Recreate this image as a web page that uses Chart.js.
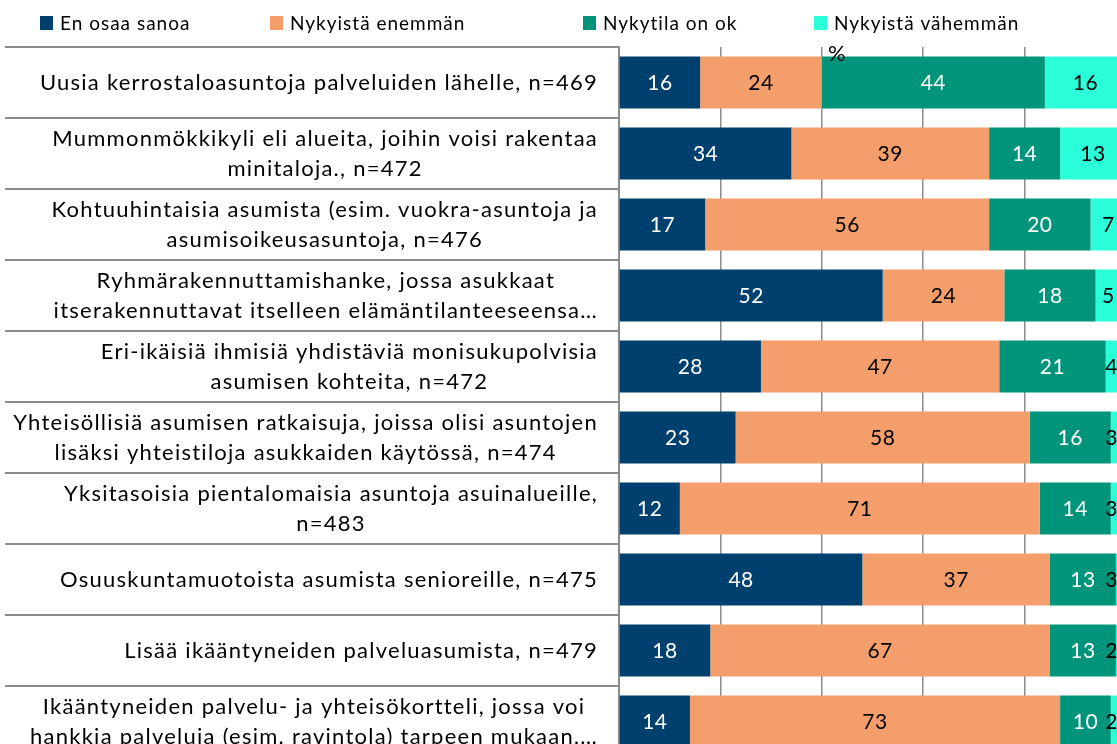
<!DOCTYPE html>
<html>
<head>
<meta charset="utf-8">
<script src="https://cdn.jsdelivr.net/npm/chart.js@4.4.1/dist/chart.umd.min.js"></script>
<style>
    html, body { margin: 0; padding: 0; overflow: hidden; background: #fff; }
    #wrap { width: 1117px; height: 744px; overflow: hidden; }
    canvas { display: block; }
</style>
</head>
<body>
<div id="wrap"><canvas id="chart" width="1126" height="757"></canvas></div>
<script>
// category labels, already split into lines as in the original
const categories = [
    ['Uusia kerrostaloasuntoja palveluiden lähelle, n=469'],
    ['Mummonmökkikyli eli alueita, joihin voisi rakentaa', 'minitaloja., n=472'],
    ['Kohtuuhintaisia asumista (esim. vuokra-asuntoja ja', 'asumisoikeusasuntoja, n=476'],
    ['Ryhmärakennuttamishanke, jossa asukkaat', 'itserakennuttavat itselleen elämäntilanteeseensa…'],
    ['Eri-ikäisiä ihmisiä yhdistäviä monisukupolvisia', 'asumisen kohteita, n=472'],
    ['Yhteisöllisiä asumisen ratkaisuja, joissa olisi asuntojen', 'lisäksi yhteistiloja asukkaiden käytössä, n=474'],
    ['Yksitasoisia pientalomaisia asuntoja asuinalueille,', 'n=483'],
    ['Osuuskuntamuotoista asumista senioreille, n=475'],
    ['Lisää ikääntyneiden palveluasumista, n=479'],
    ['Ikääntyneiden palvelu- ja yhteisökortteli, jossa voi', 'hankkia palveluja (esim. ravintola) tarpeen mukaan,…']
];

const enOsaaSanoa = [16, 34, 17, 52, 28, 23, 12, 48, 18, 14];
const nykyistaEnemman = [24, 39, 56, 24, 47, 58, 71, 37, 67, 73];
const nykytilaOk = [44, 14, 20, 18, 21, 16, 14, 13, 13, 10];
const nykyistaVahemman = [16, 13, 7, 5, 4, 3, 3, 3, 2, 2];

const seriesNames = ['En osaa sanoa', 'Nykyistä enemmän', 'Nykytila on ok', 'Nykyistä vähemmän'];
const xMax = 100;
const xStep = 20;
const axisTitle = '%';

const seriesColors = ['#00406e', '#f49e6c', '#00957a', '#2affda'];
const valueColors = ['#ffffff', '#000000', '#ffffff', '#000000'];
const legendX = [40, 270, 583, 814];
const gridGrey = '#8c8c8c';
const FONT = 'Lato, "Open Sans", sans-serif';

const seriesValues = [enOsaaSanoa, nykyistaEnemman, nykytilaOk, nykyistaVahemman];

const drawExtras = {
    id: 'drawExtras',
    afterDatasetsDraw(chart) {
        const ctx = chart.ctx;
        const area = chart.chartArea;
        ctx.save();
        ctx.font = '21px ' + FONT;
        ctx.letterSpacing = '0.5px';
        ctx.textAlign = 'center';
        ctx.textBaseline = 'middle';
        chart.data.datasets.forEach((ds, di) => {
            chart.getDatasetMeta(di).data.forEach((bar, i) => {
                const txt = String(ds.data[i]);
                const w = ctx.measureText(txt).width;
                let x = (bar.x + bar.base) / 2;
                x = Math.min(x, area.right - 8 - w / 2);
                ctx.fillStyle = valueColors[di];
                ctx.fillText(txt, x, bar.y + 1);
            });
        });

        // axis title
        ctx.fillStyle = '#000';
        ctx.font = '22px ' + FONT;
        ctx.fillText(axisTitle, chart.scales.x.getPixelForValue(43), area.top + 7);
        ctx.restore();
    },
    afterDraw(chart) {
        const ctx = chart.ctx;
        const yScale = chart.scales.y;
        ctx.save();

        // category labels: block right-aligned, lines centred inside it
        ctx.font = '22px ' + FONT;
        ctx.letterSpacing = '1.25px';
        ctx.fillStyle = '#000';
        ctx.textAlign = 'center';
        ctx.textBaseline = 'middle';
        const right = chart.chartArea.left - 21;
        const lineH = 30;
        categories.forEach((lines, i) => {
            const yc = yScale.getPixelForValue(i);
            const w = Math.max(...lines.map((l) => ctx.measureText(l).width));
            const cx = right - w / 2;
            lines.forEach((l, j) => {
                ctx.fillText(l, cx, yc + (j - (lines.length - 1) / 2) * lineH);
            });
        });

        // legend
        ctx.font = '19px ' + FONT;
        ctx.letterSpacing = '1px';
        ctx.textAlign = 'left';
        chart.data.datasets.forEach((ds, di) => {
            const x = legendX[di];
            ctx.fillStyle = ds.backgroundColor;
            ctx.fillRect(x, 16, 13, 14);
            ctx.fillStyle = '#000';
            ctx.fillText(ds.label, x + 20, 24);
        });
        ctx.restore();
    }
};

const ctx = document.getElementById('chart').getContext('2d');
new Chart(ctx, {
    type: 'bar',
    data: {
        labels: categories.map((c) => c.join(' ')),
        datasets: seriesNames.map((name, i) => ({
            label: name,
            data: seriesValues[i],
            backgroundColor: seriesColors[i],
            borderWidth: 0,
            barPercentage: 0.73,
            categoryPercentage: 1
        }))
    },
    options: {
        indexAxis: 'y',
        responsive: false,
        animation: false,
        layout: {padding: {top: 47, right: 0, bottom: 0, left: 0}},
        scales: {
            x: {
                stacked: true,
                min: 0,
                max: xMax,
                ticks: {display: false, stepSize: xStep},
                grid: {color: gridGrey, lineWidth: 1.5, drawTicks: false},
                border: {display: false},
                afterFit: (scale) => { scale.height = 0; }
            },
            y: {
                stacked: true,
                ticks: {display: false},
                grid: {
                    offset: true,
                    drawOnChartArea: false,
                    tickLength: 614,
                    color: gridGrey,
                    lineWidth: 2
                },
                border: {display: true, color: gridGrey, width: 2},
                afterFit: (scale) => { scale.width = 619; }
            }
        },
        plugins: {
            legend: {display: false},
            tooltip: {enabled: false}
        }
    },
    plugins: [drawExtras]
});
</script>
</body>
</html>
